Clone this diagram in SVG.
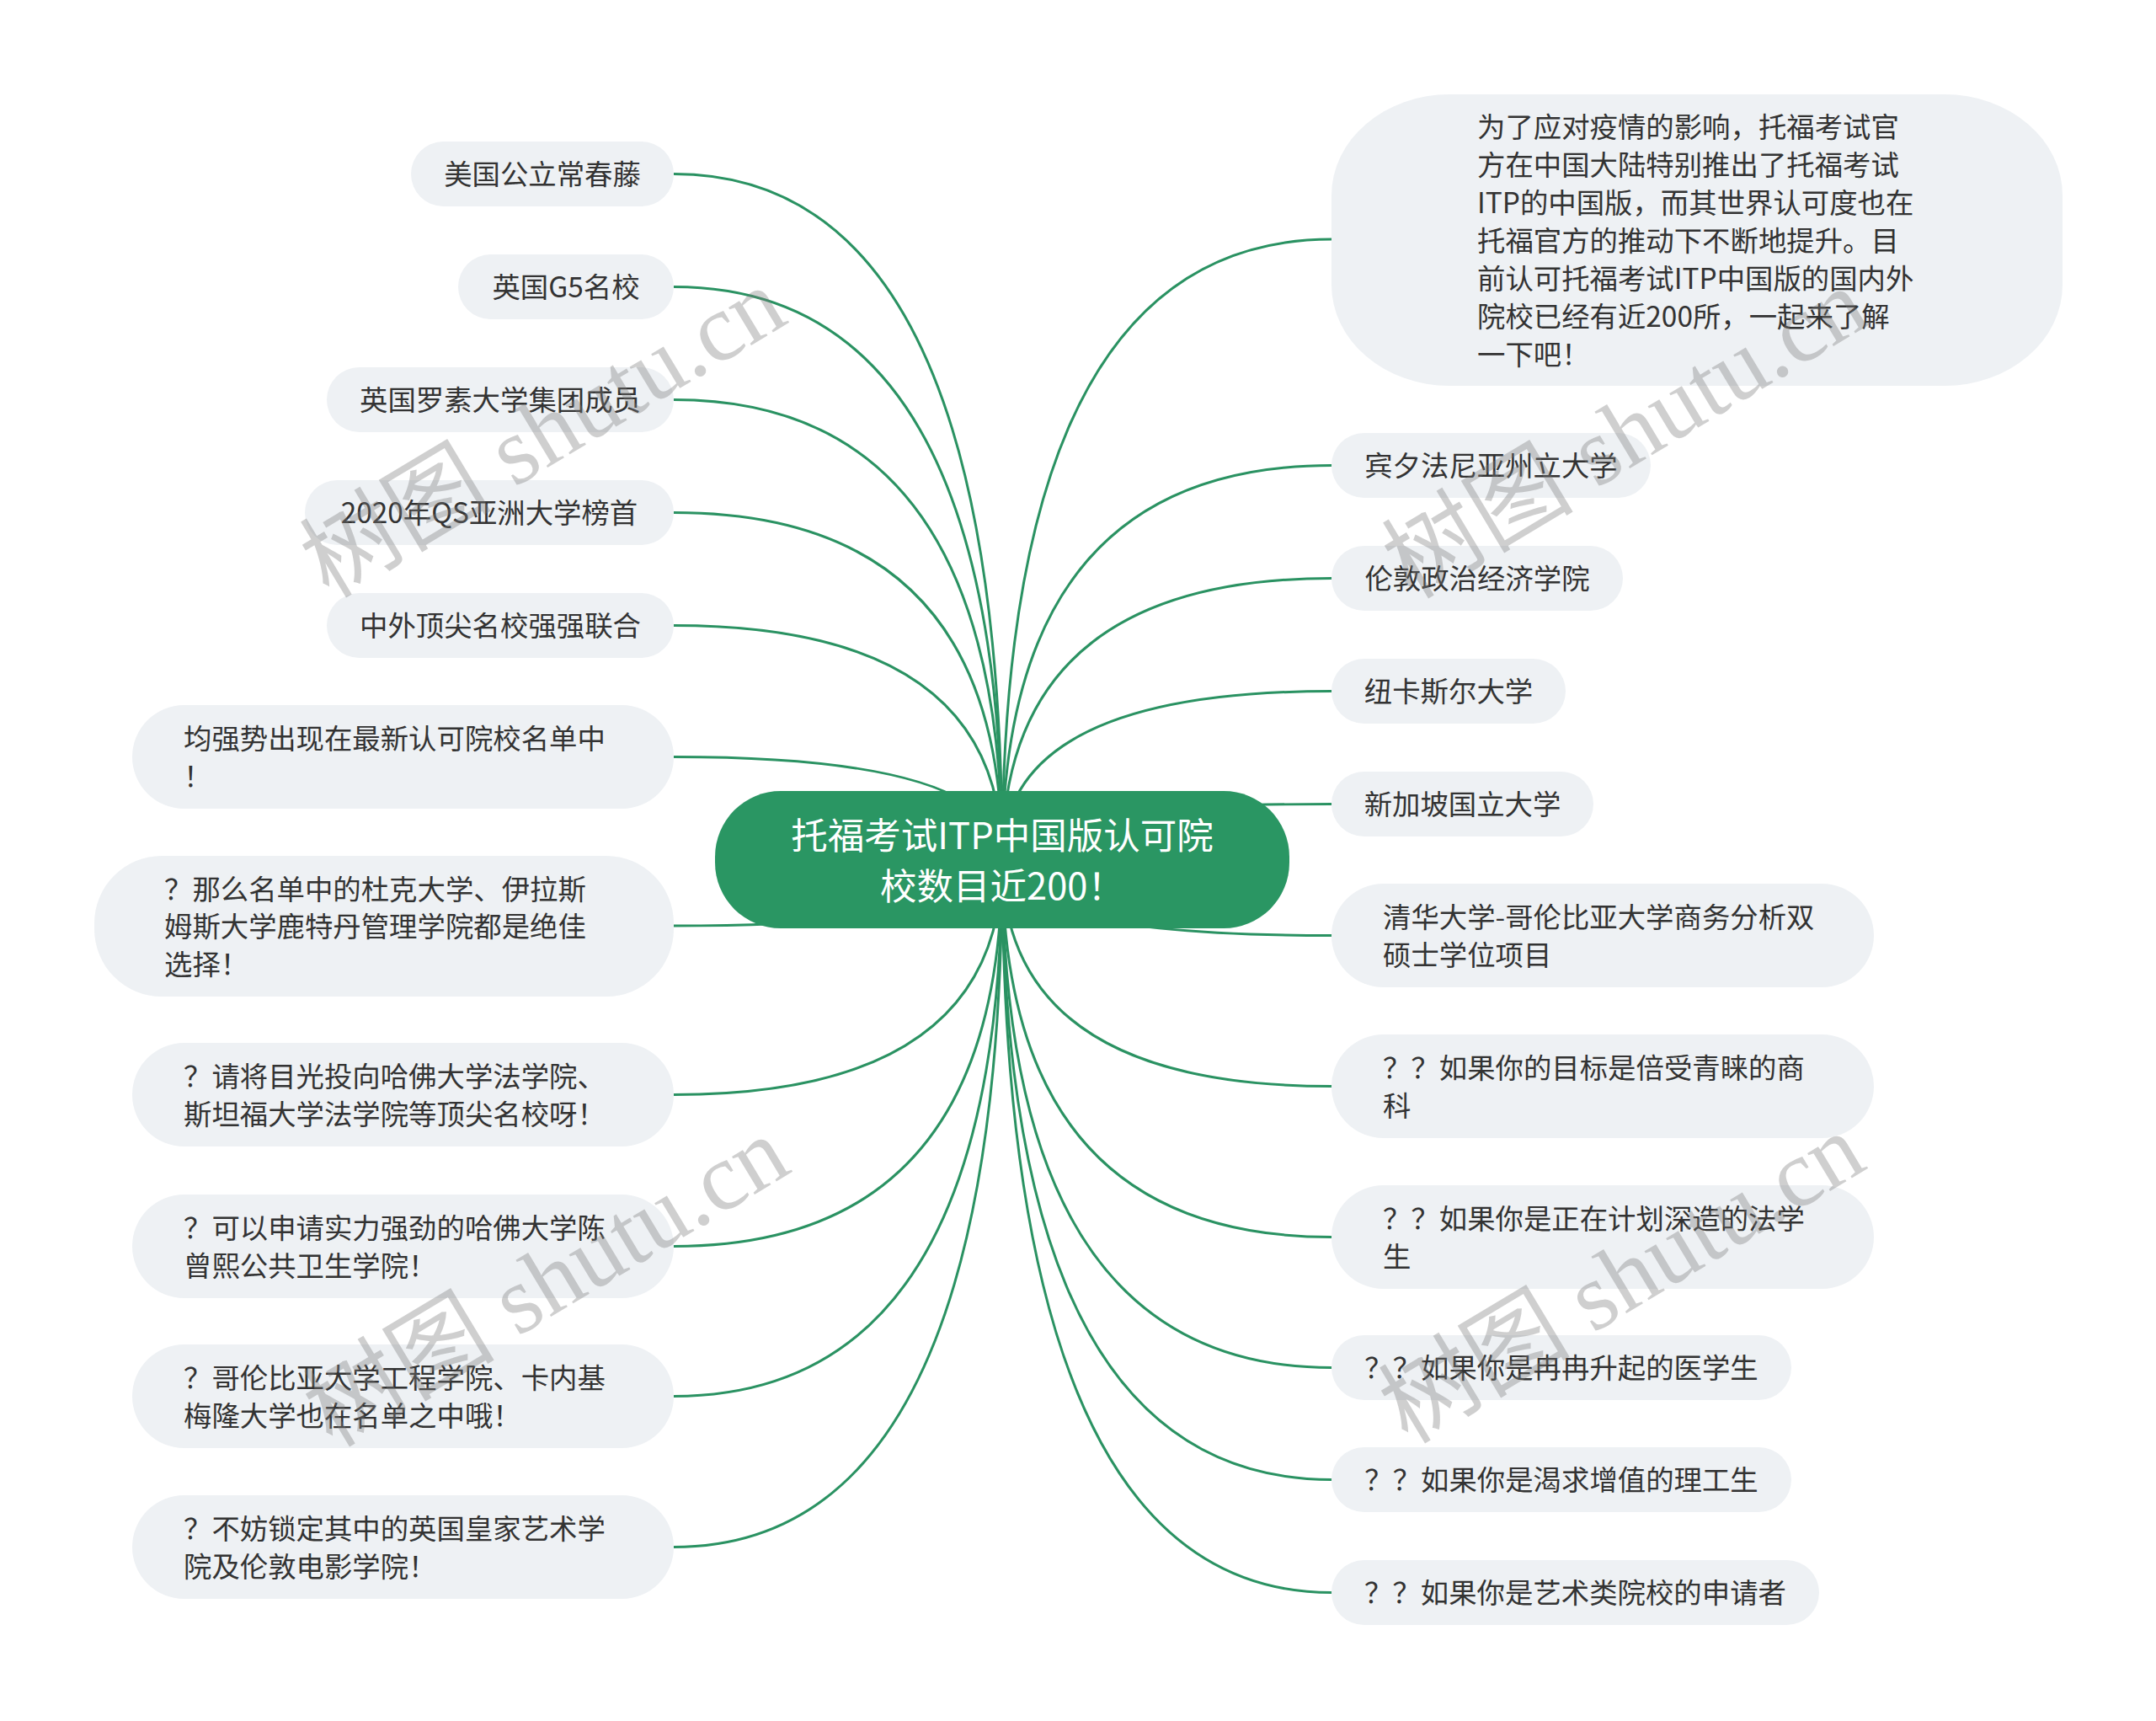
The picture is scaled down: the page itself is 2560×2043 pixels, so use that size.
<svg xmlns="http://www.w3.org/2000/svg" width="2560" height="2043" viewBox="0 0 2560 2043">
<style>
.bg{fill:#ffffff}
.leaf{fill:#eef1f4}
.lt{font-family:"Noto Sans CJK SC","Noto Sans",sans-serif;font-size:33.4px;fill:#333333}
.mid{text-anchor:middle}
.root{fill:#2a9663}
.rt{font-family:"Noto Sans CJK SC","Noto Sans",sans-serif;font-size:43.5px;fill:#ffffff;text-anchor:middle}
.conn path{fill:none;stroke:#2a9262;stroke-width:3}
.wm{font-family:"Liberation Serif","Noto Sans CJK SC",serif;font-size:114px;fill:#7a7a7a;fill-opacity:0.36;text-anchor:middle}
</style>
<rect class="bg" x="0" y="0" width="2560" height="2043"/>
<g class="conn" id="connectors">
<path d="M1190,1020 Q1190,206.5 800,206.5"/>
<path d="M1190,1020 Q1190,340.5 800,340.5"/>
<path d="M1190,1020 Q1190,474.5 800,474.5"/>
<path d="M1190,1020 Q1190,608.5 800,608.5"/>
<path d="M1190,1020 Q1190,742.5 800,742.5"/>
<path d="M1190,1020 Q1190,898.5 800,898.5"/>
<path d="M1190,1020 Q1190,1099 800,1099"/>
<path d="M1190,1020 Q1190,1299.5 800,1299.5"/>
<path d="M1190,1020 Q1190,1479.5 800,1479.5"/>
<path d="M1190,1020 Q1190,1657.5 800,1657.5"/>
<path d="M1190,1020 Q1190,1836.5 800,1836.5"/>
<path d="M1190,1020 Q1190,284 1581,284"/>
<path d="M1190,1020 Q1190,552.5 1581,552.5"/>
<path d="M1190,1020 Q1190,686.5 1581,686.5"/>
<path d="M1190,1020 Q1190,820.5 1581,820.5"/>
<path d="M1190,1020 Q1190,954.5 1581,954.5"/>
<path d="M1190,1020 Q1190,1110.5 1581,1110.5"/>
<path d="M1190,1020 Q1190,1289.5 1581,1289.5"/>
<path d="M1190,1020 Q1190,1468.5 1581,1468.5"/>
<path d="M1190,1020 Q1190,1623.5 1581,1623.5"/>
<path d="M1190,1020 Q1190,1756.5 1581,1756.5"/>
<path d="M1190,1020 Q1190,1890.5 1581,1890.5"/>
</g>
<g id="root">
<rect class="root" x="849" y="939" width="682" height="163" rx="78" ry="78"/>
<text class="rt" x="1190" y="1007.5">托福考试ITP中国版认可院</text>
<text class="rt" x="1190" y="1067.5">校数目近200！</text>
</g>
<g id="l1"><rect class="leaf" x="488" y="168" width="312" height="77" rx="38.5"/><text class="lt mid" x="644" y="219">美国公立常春藤</text></g>
<g id="l2"><rect class="leaf" x="544" y="302" width="256" height="77" rx="38.5"/><text class="lt mid" x="672" y="353">英国G5名校</text></g>
<g id="l3"><rect class="leaf" x="388" y="436" width="412" height="77" rx="38.5"/><text class="lt mid" x="594" y="487">英国罗素大学集团成员</text></g>
<g id="l4"><rect class="leaf" x="362" y="570" width="438" height="77" rx="38.5"/><text class="lt mid" x="581" y="621">2020年QS亚洲大学榜首</text></g>
<g id="l5"><rect class="leaf" x="388" y="704" width="412" height="77" rx="38.5"/><text class="lt mid" x="594" y="755">中外顶尖名校强强联合</text></g>
<g id="l6"><rect class="leaf" x="157" y="837" width="643" height="123" rx="61.5"/><text class="lt" x="218" y="889">均强势出现在最新认可院校名单中</text><text class="lt" x="218" y="934">！</text></g>
<g id="l7"><rect class="leaf" x="112" y="1016" width="688" height="167" rx="80"/><text class="lt" x="195" y="1068">？那么名单中的杜克大学、伊拉斯</text><text class="lt" x="195" y="1112">姆斯大学鹿特丹管理学院都是绝佳</text><text class="lt" x="195" y="1157">选择！</text></g>
<g id="l8"><rect class="leaf" x="157" y="1238" width="643" height="123" rx="61.5"/><text class="lt" x="218" y="1290">？请将目光投向哈佛大学法学院、</text><text class="lt" x="218" y="1335">斯坦福大学法学院等顶尖名校呀！</text></g>
<g id="l9"><rect class="leaf" x="157" y="1418" width="643" height="123" rx="61.5"/><text class="lt" x="218" y="1470">？可以申请实力强劲的哈佛大学陈</text><text class="lt" x="218" y="1515">曾熙公共卫生学院！</text></g>
<g id="l10"><rect class="leaf" x="157" y="1596" width="643" height="123" rx="61.5"/><text class="lt" x="218" y="1648">？哥伦比亚大学工程学院、卡内基</text><text class="lt" x="218" y="1693">梅隆大学也在名单之中哦！</text></g>
<g id="l11"><rect class="leaf" x="157" y="1775" width="643" height="123" rx="61.5"/><text class="lt" x="218" y="1827">？不妨锁定其中的英国皇家艺术学</text><text class="lt" x="218" y="1872">院及伦敦电影学院！</text></g>
<g id="r1"><rect class="leaf" x="1581" y="112" width="868" height="346" rx="140" ry="120"/>
<text class="lt" x="1754" y="163">为了应对疫情的影响，托福考试官</text>
<text class="lt" x="1754" y="208">方在中国大陆特别推出了托福考试</text>
<text class="lt" x="1754" y="253">ITP的中国版，而其世界认可度也在</text>
<text class="lt" x="1754" y="298">托福官方的推动下不断地提升。目</text>
<text class="lt" x="1754" y="343">前认可托福考试ITP中国版的国内外</text>
<text class="lt" x="1754" y="388">院校已经有近200所，一起来了解</text>
<text class="lt" x="1754" y="433">一下吧！</text></g>
<g id="r2"><rect class="leaf" x="1581" y="514" width="379" height="77" rx="38.5"/><text class="lt mid" x="1770.5" y="565">宾夕法尼亚州立大学</text></g>
<g id="r3"><rect class="leaf" x="1581" y="648" width="346" height="77" rx="38.5"/><text class="lt mid" x="1754" y="699">伦敦政治经济学院</text></g>
<g id="r4"><rect class="leaf" x="1581" y="782" width="278" height="77" rx="38.5"/><text class="lt mid" x="1720" y="833">纽卡斯尔大学</text></g>
<g id="r5"><rect class="leaf" x="1581" y="916" width="311" height="77" rx="38.5"/><text class="lt mid" x="1736.5" y="967">新加坡国立大学</text></g>
<g id="r6"><rect class="leaf" x="1581" y="1049" width="644" height="123" rx="61.5"/><text class="lt" x="1642" y="1101">清华大学-哥伦比亚大学商务分析双</text><text class="lt" x="1642" y="1146">硕士学位项目</text></g>
<g id="r7"><rect class="leaf" x="1581" y="1228" width="644" height="123" rx="61.5"/><text class="lt" x="1642" y="1280">？？如果你的目标是倍受青睐的商</text><text class="lt" x="1642" y="1325">科</text></g>
<g id="r8"><rect class="leaf" x="1581" y="1407" width="644" height="123" rx="61.5"/><text class="lt" x="1642" y="1459">？？如果你是正在计划深造的法学</text><text class="lt" x="1642" y="1504">生</text></g>
<g id="r9"><rect class="leaf" x="1581" y="1585" width="546" height="77" rx="38.5"/><text class="lt mid" x="1854" y="1636">？？如果你是冉冉升起的医学生</text></g>
<g id="r10"><rect class="leaf" x="1581" y="1718" width="546" height="77" rx="38.5"/><text class="lt mid" x="1854" y="1769">？？如果你是渴求增值的理工生</text></g>
<g id="r11"><rect class="leaf" x="1581" y="1852" width="579" height="77" rx="38.5"/><text class="lt mid" x="1870.5" y="1903">？？如果你是艺术类院校的申请者</text></g>
<g id="watermarks">
<text class="wm" transform="translate(645,514) rotate(-31)" x="0" y="38">树图 shutu.cn</text>
<text class="wm" transform="translate(1930,515) rotate(-31)" x="0" y="38">树图 shutu.cn</text>
<text class="wm" transform="translate(649,1522) rotate(-31)" x="0" y="38">树图 shutu.cn</text>
<text class="wm" transform="translate(1926,1518) rotate(-31)" x="0" y="38">树图 shutu.cn</text>
</g>
</svg>
